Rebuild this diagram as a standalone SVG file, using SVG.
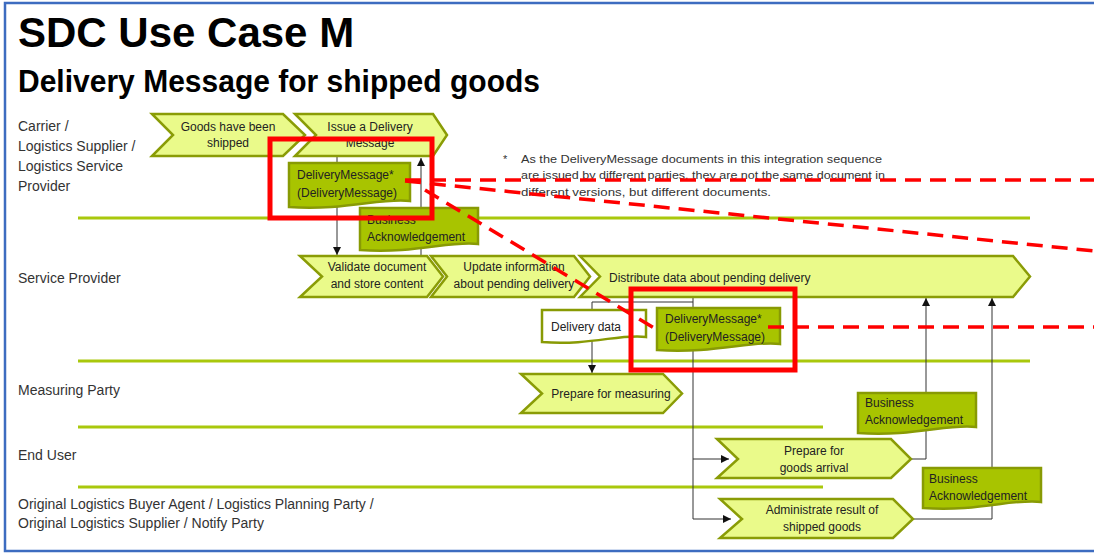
<svg xmlns="http://www.w3.org/2000/svg" width="1094" height="553" viewBox="0 0 1094 553">
<defs>
<style>
.chev{fill:#eafa8a;stroke:#8a9c06;stroke-width:2.5;stroke-linejoin:miter}
.doc{fill:#a8c400;stroke:#889a04;stroke-width:2.5}
.docw{fill:#ffffff;stroke:#889a04;stroke-width:2.5}
.lane{stroke:#a9c80c;stroke-width:3}
.t{font-family:"Liberation Sans",Arial,sans-serif;font-size:12px;fill:#222}
.tm{text-anchor:middle}
.lbl{font-family:"Liberation Sans",Arial,sans-serif;font-size:14px;fill:#333}
.note{font-family:"Liberation Sans",Arial,sans-serif;font-size:11px;fill:#333}
.con{fill:none;stroke:#333;stroke-width:1}
.red{fill:none;stroke:#ff0000;stroke-width:5}
.rdash{fill:none;stroke:#ff0000;stroke-width:3.5;stroke-dasharray:16 9}
</style>
<marker id="arr" viewBox="0 0 10 10" refX="10" refY="5" markerWidth="8" markerHeight="8" markerUnits="userSpaceOnUse" orient="auto">
<path d="M0,0 L10,5 L0,10 Z" fill="#111"/>
</marker>
</defs>
<rect x="0" y="0" width="1094" height="553" fill="#ffffff"/>
<rect x="5" y="3" width="1100" height="548" fill="none" stroke="#3d6cc0" stroke-width="2.5"/>

<g id="titles">
<text x="18" y="47" font-family="Liberation Sans,Arial,sans-serif" font-size="42" font-weight="bold" fill="#000">SDC Use Case M</text>
<text x="18" y="92" font-family="Liberation Sans,Arial,sans-serif" font-size="32" font-weight="bold" fill="#000" textLength="522" lengthAdjust="spacingAndGlyphs">Delivery Message for shipped goods</text>
</g>

<g id="lanes">
<line class="lane" x1="78" y1="218" x2="1030" y2="218"/>
<line class="lane" x1="78" y1="361" x2="1030" y2="361"/>
<line class="lane" x1="78" y1="427" x2="823" y2="427"/>
<line class="lane" x1="78" y1="487" x2="823" y2="487"/>
<text class="lbl" x="18" y="131">Carrier /</text>
<text class="lbl" x="18" y="151">Logistics Supplier /</text>
<text class="lbl" x="18" y="171">Logistics Service</text>
<text class="lbl" x="18" y="191">Provider</text>
<text class="lbl" x="18" y="283">Service Provider</text>
<text class="lbl" x="18" y="395">Measuring Party</text>
<text class="lbl" x="18" y="460">End User</text>
<text class="lbl" x="18" y="509">Original Logistics Buyer Agent / Logistics Planning Party /</text>
<text class="lbl" x="18" y="528">Original Logistics Supplier / Notify Party</text>
</g>

<g id="connectors">
<path class="con" d="M337,156 V255" marker-end="url(#arr)"/>
<path class="con" d="M421,256 V158" marker-end="url(#arr)"/>
<path class="con" d="M693,297 V302 H592 V373" marker-end="url(#arr)"/>
<path class="con" d="M693,302 V519 H731" marker-end="url(#arr)"/>
<path class="con" d="M693,459 H729" marker-end="url(#arr)"/>
<path class="con" d="M911,459 H926 V298" marker-end="url(#arr)"/>
<path class="con" d="M913,519 H992 V298" marker-end="url(#arr)"/>
</g>

<g id="goods-shipped">
<polygon class="chev" points="152,114 283,114 305,135 283,156 152,156 173,135"/>
<text class="t tm" x="228" y="131">Goods have been</text>
<text class="t tm" x="228" y="147">shipped</text>
</g>
<g id="issue-delivery">
<polygon class="chev" points="295,114 433,114 447,135 433,156 295,156 316,135"/>
<text class="t tm" x="370" y="131">Issue a Delivery</text>
<text class="t tm" x="370" y="147">Message</text>
</g>
<g id="doc-delivery-message-1">
<path class="doc" d="M289,163 H410 V201 C383,197 345,211 289,207 Z"/>
<text class="t" x="297" y="179">DeliveryMessage*</text>
<text class="t" x="297" y="197">(DeliveryMessage)</text>
</g>
<g id="doc-business-ack-1">
<path class="doc" d="M360,208 H478 V244 C452,240 415,254 360,250 Z"/>
<text class="t" x="367" y="224">Business</text>
<text class="t" x="367" y="241">Acknowledgement</text>
</g>
<g id="validate">
<polygon class="chev" points="300,256 427,256 443,276.5 427,297 300,297 322,276.5"/>
<text class="t tm" x="377" y="271">Validate document</text>
<text class="t tm" x="377" y="288">and store content</text>
</g>
<g id="update">
<polygon class="chev" points="431,256 574,256 590,276.5 574,297 431,297 447,276.5"/>
<text class="t tm" x="514" y="271">Update information</text>
<text class="t tm" x="514" y="288">about pending delivery</text>
</g>
<g id="distribute">
<polygon class="chev" points="580,256 1013,256 1030,276.5 1013,297 580,297 600,276.5"/>
<text class="t" x="609" y="282">Distribute data about pending delivery</text>
</g>
<g id="doc-delivery-data">
<path class="docw" d="M542,310 H646 V337 C622,333 590,346 542,342 Z"/>
<text class="t" x="551" y="331">Delivery data</text>
</g>
<g id="doc-delivery-message-2">
<path class="doc" d="M657,308 H780 V344 C753,340 714,354 657,350 Z"/>
<text class="t" x="665" y="323">DeliveryMessage*</text>
<text class="t" x="665" y="341">(DeliveryMessage)</text>
</g>
<g id="prepare-measuring">
<polygon class="chev" points="521,374 663,374 682,393.5 663,413 521,413 542,393.5"/>
<text class="t tm" x="611" y="398">Prepare for measuring</text>
</g>
<g id="doc-business-ack-2">
<path class="doc" d="M858,393 H976 V427 C950,423 913,437 858,433 Z"/>
<text class="t" x="865" y="407">Business</text>
<text class="t" x="865" y="424">Acknowledgement</text>
</g>
<g id="prepare-arrival">
<polygon class="chev" points="717,439 891,439 911,459 891,478 717,478 738,459"/>
<text class="t tm" x="814" y="455">Prepare for</text>
<text class="t tm" x="814" y="472">goods arrival</text>
</g>
<g id="doc-business-ack-3">
<path class="doc" d="M923,468 H1041 V502 C1015,498 978,512 923,508 Z"/>
<text class="t" x="929" y="483">Business</text>
<text class="t" x="929" y="500">Acknowledgement</text>
</g>
<g id="administrate">
<polygon class="chev" points="720,499 893,499 913,519 893,538 720,538 742,519"/>
<text class="t tm" x="822" y="514">Administrate result of</text>
<text class="t tm" x="822" y="531">shipped goods</text>
</g>

<g id="footnote">
<text class="note" x="503" y="163">*</text>
<text class="note" x="521" y="163" textLength="361" lengthAdjust="spacingAndGlyphs">As the DeliveryMessage documents in this integration sequence</text>
<text class="note" x="521" y="179" textLength="364" lengthAdjust="spacingAndGlyphs">are issued by different parties, they are not the same document in</text>
<text class="note" x="521" y="196" textLength="250" lengthAdjust="spacingAndGlyphs">different versions, but different documents.</text>
</g>

<g id="highlights">
<rect class="red" x="270" y="139" width="162" height="79"/>
<rect class="red" x="631" y="289" width="164" height="81"/>
<path class="rdash" d="M405,180 H1094"/>
<path class="rdash" d="M405,181 L1094,251"/>
<path class="rdash" d="M425,190 L654,328"/>
<path class="rdash" d="M768,327 H1094"/>
</g>
</svg>
